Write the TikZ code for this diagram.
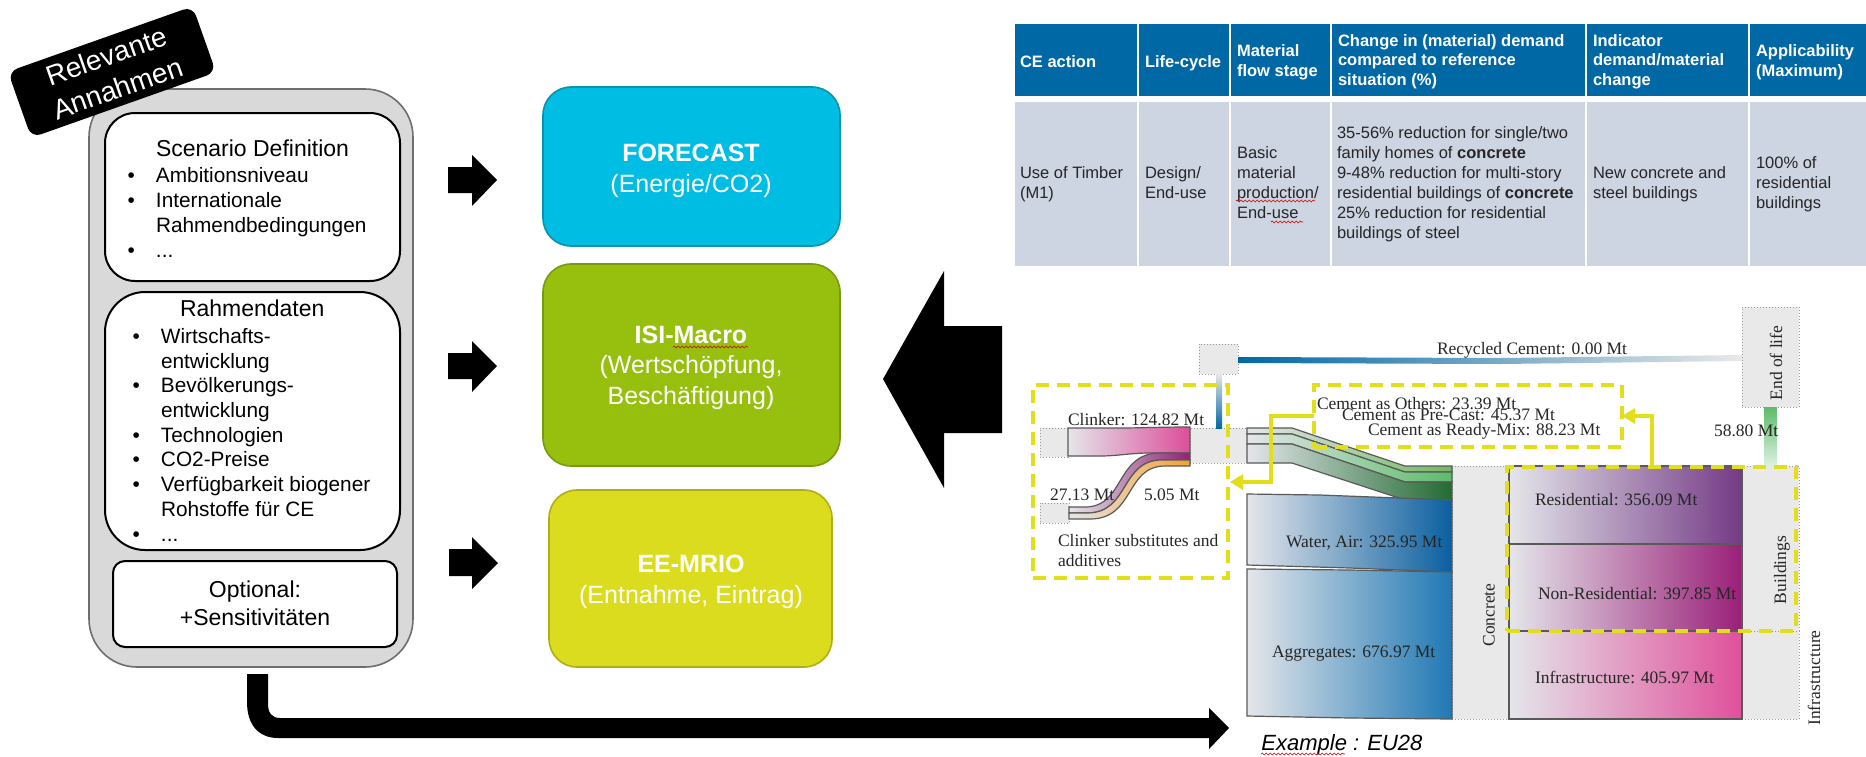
\documentclass[tikz,border=0pt]{standalone}
\usepackage{fontspec}
\setmainfont{Liberation Sans}
\newfontfamily\tms{Liberation Serif}
\usetikzlibrary{arrows.meta,decorations.pathmorphing}
\definecolor{frameGray}{HTML}{D9D9D9}
\definecolor{frameEdge}{HTML}{6E6E6E}
\definecolor{cBlue}{HTML}{00BDE3}
\definecolor{cBlueE}{HTML}{0A93AC}
\definecolor{cGreen}{HTML}{97C00E}
\definecolor{cGreenE}{HTML}{789A10}
\definecolor{cLime}{HTML}{DCDC1E}
\definecolor{cLimeE}{HTML}{B0AE18}
\definecolor{thead}{HTML}{0068A5}
\definecolor{tbody}{HTML}{CDD4E2}
\definecolor{sGray}{HTML}{E9E9E9}
\definecolor{sPale}{HTML}{E4E6EA}
\definecolor{dashY}{HTML}{E3DE1A}
\definecolor{sClk}{HTML}{DC4E9A}
\definecolor{sPur}{HTML}{8E2272}
\definecolor{sOra}{HTML}{F5A030}
\definecolor{sRes}{HTML}{743A85}
\definecolor{sNon}{HTML}{9A1F78}
\definecolor{sInf}{HTML}{E0509B}
\definecolor{sG1}{HTML}{72B860}
\definecolor{sG2}{HTML}{5CBB6A}
\definecolor{sG3}{HTML}{226B32}
\definecolor{sWat}{HTML}{0A5FA0}
\definecolor{sAgg}{HTML}{1F78B4}
\newcommand{\bx}[6]{\pgfmathsetmacro\bxw{(#4-#2)*0.5}\pgfmathsetmacro\bxh{(#5-#3)*0.5}\node[#6,anchor=north west,inner sep=0pt,outer sep=0pt,minimum width=\bxw pt,minimum height=\bxh pt] (#1) at (#2,#3) {};}
\newcommand{\bl}{\llap{•\hspace{10.5pt}}}
\tikzset{
  outerbox/.style={draw=frameEdge,fill=frameGray,line width=0.8pt,rounded corners=24pt},
  innerbox/.style={draw=black,fill=white,line width=1pt},
  model/.style={line width=0.8pt,rounded corners=14pt},
  thcell/.style={fill=thead},
  tdcell/.style={fill=tbody},
  txt/.style={anchor=base west,inner sep=0pt,outer sep=0pt,align=left,font=\fontsize{10.4}{12.35}\selectfont},
  txthead/.style={anchor=base west,inner sep=0pt,outer sep=0pt,font=\fontsize{11.5}{13}\selectfont},
  modeltxt/.style={anchor=base,inner sep=0pt,outer sep=0pt,align=center,text=white,font=\fontsize{12.5}{15.2}\selectfont},
  thtxt/.style={anchor=base west,inner sep=0pt,outer sep=0pt,align=left,text=white,font=\fontsize{8.25}{9.75}\selectfont\bfseries},
  tdtxt/.style={anchor=base west,inner sep=0pt,outer sep=0pt,align=left,text=black!85,font=\fontsize{8.25}{10}\selectfont},
  snode/.style={fill=sGray,draw=black!40,densely dotted,line width=0.5pt},
  band/.style={draw=black!65,line width=0.6pt},
  slab/.style={anchor=base west,inner sep=0pt,outer sep=0pt,align=left,text=black!85,font=\tms\fontsize{8.75}{9.6}\selectfont},
  yelbox/.style={draw=dashY,line width=2.2pt,dash pattern=on 6.5pt off 4pt},
  yelarrow/.style={draw=dashY,line width=2pt,-{Triangle[width=7.5pt,length=6.5pt]}},
  wavy/.style={draw=red!80!black,line width=0.3pt,decorate,decoration={snake,amplitude=0.5pt,segment length=2pt}},
  blockarrow/.style={fill=black}
}
\begin{document}
\begin{tikzpicture}[x=0.5pt,y=-0.5pt]
\useasboundingbox (0,0) rectangle (1866,756);
% left panel
\bx{outer}{89}{89}{413}{667}{outerbox}
\bx{scenbox}{105}{113}{400}{281}{innerbox,rounded corners=15pt}
\bx{rahmbox}{105}{292}{400}{550}{innerbox,rounded corners=20pt}
\bx{optbox}{113}{561}{397}{647}{innerbox,rounded corners=6pt}
\node[fill=black,rounded corners=5pt,rotate=19.5,minimum width=98pt,minimum height=35pt,inner sep=0pt,align=center,text=white,font=\fontsize{14}{17}\selectfont] (tag) at (112,72) {Relevante\\Annahmen};
\node[txthead] (scent) at (156,156) {Scenario Definition};
\node[txt] (scenl) at (156,257) {\bl Ambitionsniveau\\\bl Internationale\\Rahmendbedingungen\\\bl ...};
\node[txthead] (rahmt) at (180,316) {Rahmendaten};
\node[txt] (rahml) at (161,541) {\bl Wirtschafts-\\entwicklung\\\bl Bevölkerungs-\\entwicklung\\\bl Technologien\\\bl CO2-Preise\\\bl Verfügbarkeit biogener\\Rohstoffe für CE\\\bl ...};
\node[anchor=base,inner sep=0pt,outer sep=0pt,align=center,font=\fontsize{11.5}{14}\selectfont] (optt) at (255,625) {Optional:\\+Sensitivitäten};
% model boxes
\bx{fc}{543}{87}{840}{246}{model,fill=cBlue,draw=cBlueE}
\bx{isi}{543}{264}{840}{466}{model,fill=cGreen,draw=cGreenE}
\bx{ee}{549}{490}{832}{667}{model,fill=cLime,draw=cLimeE}
\node[modeltxt] (fct) at (691,192) {\textbf{FORECAST}\\(Energie/CO2)};
\node[modeltxt] (isit) at (691,404) {\textbf{ISI-Macro}\\(Wertschöpfung,\\Beschäftigung)};
\node[modeltxt] (eet) at (691,603) {\textbf{EE-MRIO}\\(Entnahme, Eintrag)};
\draw[wavy] (673,347) -- (748,347);
% block arrows
\fill[blockarrow] (448,167) -- (472,167) -- (472,155) -- (497,180) -- (472,206) -- (472,193) -- (448,193) -- cycle;
\fill[blockarrow] (448,353) -- (472,353) -- (472,341) -- (497,366) -- (472,392) -- (472,379) -- (448,379) -- cycle;
\fill[blockarrow] (449,549) -- (472,549) -- (472,537) -- (498,563) -- (472,589) -- (472,576) -- (449,576) -- cycle;
\fill[blockarrow] (883,379) -- (944,271) -- (944,326) -- (1002,326) -- (1002,433) -- (944,433) -- (944,488) -- cycle;
\fill[blockarrow] (247,674) -- (268,674) -- (268,704) .. controls (268,713) and (272,718) .. (280,718) -- (1209,718) -- (1209,708) -- (1229,728) -- (1209,749) -- (1209,738) -- (278,738) .. controls (258,738) and (247,724) .. (247,702) -- cycle;
% table
\bx{h1}{1015}{24}{1137}{96}{thcell}
\bx{h2}{1139}{24}{1229}{96}{thcell}
\bx{h3}{1231}{24}{1330}{96}{thcell}
\bx{h4}{1332}{24}{1585}{96}{thcell}
\bx{h5}{1587}{24}{1748}{96}{thcell}
\bx{h6}{1750}{24}{1866}{96}{thcell}
\bx{d1}{1015}{102}{1137}{266}{tdcell}
\bx{d2}{1139}{102}{1229}{266}{tdcell}
\bx{d3}{1231}{102}{1330}{266}{tdcell}
\bx{d4}{1332}{102}{1585}{266}{tdcell}
\bx{d5}{1587}{102}{1748}{266}{tdcell}
\bx{d6}{1750}{102}{1866}{266}{tdcell}
\node[thtxt] (t1) at (1020,67) {CE action};
\node[thtxt] (t2) at (1145,67) {Life-cycle};
\node[thtxt] (t3) at (1237,76) {Material\\flow stage};
\node[thtxt] (t4) at (1338,85) {Change in (material) demand\\compared to reference\\situation (\%)};
\node[thtxt] (t5) at (1593,85) {Indicator\\demand/material\\change};
\node[thtxt] (t6) at (1756,76) {Applicability\\(Maximum)};
\node[tdtxt] (b1) at (1020,198) {Use of Timber\\(M1)};
\node[tdtxt] (b2) at (1145,198) {Design/\\End-use};
\node[tdtxt] (b3) at (1237,218) {Basic\\material\\production/\\End-use};
\node[tdtxt] (b4) at (1337,238) {35-56\% reduction for single/two\\family homes of \textbf{concrete}\\9-48\% reduction for multi-story\\residential buildings of \textbf{concrete}\\25\% reduction for residential\\buildings of steel};
\node[tdtxt] (b5) at (1593,198) {New concrete and\\steel buildings};
\node[tdtxt] (b6) at (1756,208) {100\% of\\residential\\buildings};
\draw[wavy] (1236,201) -- (1315,201);
\draw[wavy] (1271,222) -- (1303,222);
% sankey nodes
\bx{ntop}{1199}{344}{1238}{374}{snode}
\bx{neol}{1742}{307}{1799}{407}{snode}
\bx{nclk}{1040}{428}{1068}{457}{snode}
\bx{ncem}{1190}{428}{1247}{463}{snode}
\bx{nsub}{1040}{503}{1069}{523}{snode}
\bx{ncon}{1452}{466}{1509}{719}{snode}
\bx{nbld}{1742}{466}{1799}{631}{snode}
\bx{ninf}{1742}{631}{1799}{719}{snode}
% sankey bands
\shade[left color=thead,right color=sGray] (1238,357) -- (1500,358) -- (1742,355) -- (1742,361) -- (1500,364) -- (1238,363) -- cycle;
\shade[top color=sPale,bottom color=thead] (1216,374) rectangle (1222,428);
\shade[top color=sG2,bottom color=sG2!20] (1764,407) rectangle (1777,466);
\path[band,left color=sPale,right color=sClk] (1068,428) -- (1118,428) .. controls (1140,428) and (1160,427) .. (1190,427) -- (1190,453) -- (1150,453) .. controls (1130,453) and (1118,456) .. (1100,456) -- (1068,456) -- cycle;
\path[band,left color=sPale,right color=sPur] (1069,507) -- (1085,507) .. controls (1125,507) and (1115,453) .. (1160,453) -- (1190,453) -- (1190,460) -- (1162,460) .. controls (1120,460) and (1130,513) .. (1087,513) -- (1069,513) -- cycle;
\path[band,left color=sPale,right color=sOra] (1069,513) -- (1087,513) .. controls (1130,513) and (1120,460) .. (1162,460) -- (1190,460) -- (1190,466) -- (1165,466) .. controls (1125,466) and (1135,519) .. (1090,519) -- (1069,519) -- cycle;
\path[band,left color=sPale,right color=sG1] (1247,428) -- (1292,428) -- (1405,466) -- (1452,466) -- (1452,472) -- (1405,472) -- (1292,434) -- (1247,434) -- cycle;
\path[band,left color=sPale,right color=sG2] (1247,434) -- (1292,434) -- (1405,472) -- (1452,472) -- (1452,482) -- (1405,482) -- (1292,444) -- (1247,444) -- cycle;
\path[band,left color=sPale,right color=sG3] (1247,444) -- (1292,444) -- (1405,482) -- (1452,482) -- (1452,500) -- (1405,500) -- (1292,463) -- (1247,463) -- cycle;
\path[band,left color=sPale,right color=sWat] (1247,494) -- (1320,495) -- (1452,500) -- (1452,572) -- (1350,568) -- (1247,565) -- cycle;
\path[band,left color=sPale,right color=sAgg] (1247,569) -- (1350,570) -- (1452,572) -- (1452,719) -- (1350,718) -- (1247,716) -- cycle;
\bx{res}{1509}{466}{1742}{544}{band,left color=sPale,right color=sRes}
\bx{nonres}{1509}{544}{1742}{631}{band,left color=sPale,right color=sNon}
\bx{infra}{1509}{631}{1742}{719}{band,left color=sPale,right color=sInf}
% sankey labels
\node[slab] (lrec) at (1437,354) {Recycled Cement: 0.00 Mt};
\node[slab,anchor=center,rotate=90] (leol) at (1776,363) {End of life};
\node[slab] (lclk) at (1068,425) {Clinker: 124.82 Mt};
\node[slab] (l27) at (1050,500) {27.13 Mt};
\node[slab] (l5) at (1144,500) {5.05 Mt};
\node[slab] (lsub) at (1058,566) {Clinker substitutes and\\additives};
\node[slab] (loth) at (1317,409) {Cement as Others: 23.39 Mt};
\node[slab] (lpre) at (1342,420) {Cement as Pre-Cast: 45.37 Mt};
\node[slab] (lrdy) at (1368,435) {Cement as Ready-Mix: 88.23 Mt};
\node[slab] (l58) at (1714,436) {58.80 Mt};
\node[slab] (lwat) at (1286,547) {Water, Air: 325.95 Mt};
\node[slab] (lagg) at (1272,657) {Aggregates: 676.97 Mt};
\node[slab] (lres) at (1535,505) {Residential: 356.09 Mt};
\node[slab] (lnon) at (1538,599) {Non-Residential: 397.85 Mt};
\node[slab] (linf) at (1535,683) {Infrastructure: 405.97 Mt};
\node[slab,anchor=center,rotate=90] (lcon) at (1489,615) {Concrete};
\node[slab,anchor=center,rotate=90] (lbld) at (1782,570) {Buildings};
\node[slab,anchor=center,rotate=90] (lifr) at (1814,678) {Infrastructure};
% yellow highlights
\bx{boxA}{1033}{385}{1228}{578}{yelbox}
\bx{boxB}{1314}{385}{1622}{447}{yelbox}
\bx{boxC}{1507}{467}{1796}{631}{yelbox}
\coordinate (ya) at (1271,416);
\coordinate (yb) at (1271,482);
\coordinate (yc) at (1230,482);
\coordinate (yd) at (1652,467);
\coordinate (ye) at (1652,416);
\draw[yelarrow] (boxB.west) -- (ya) -- (yb) -- (yc);
\draw[yelarrow] (yd) -- (ye) -- (boxB.east);
% example
\node[anchor=base west,inner sep=0pt,font=\fontsize{11}{13}\selectfont\itshape] (ex) at (1261,750) {Example : EU28};
\draw[wavy] (1261,754) -- (1345,754);
\end{tikzpicture}
\end{document}
